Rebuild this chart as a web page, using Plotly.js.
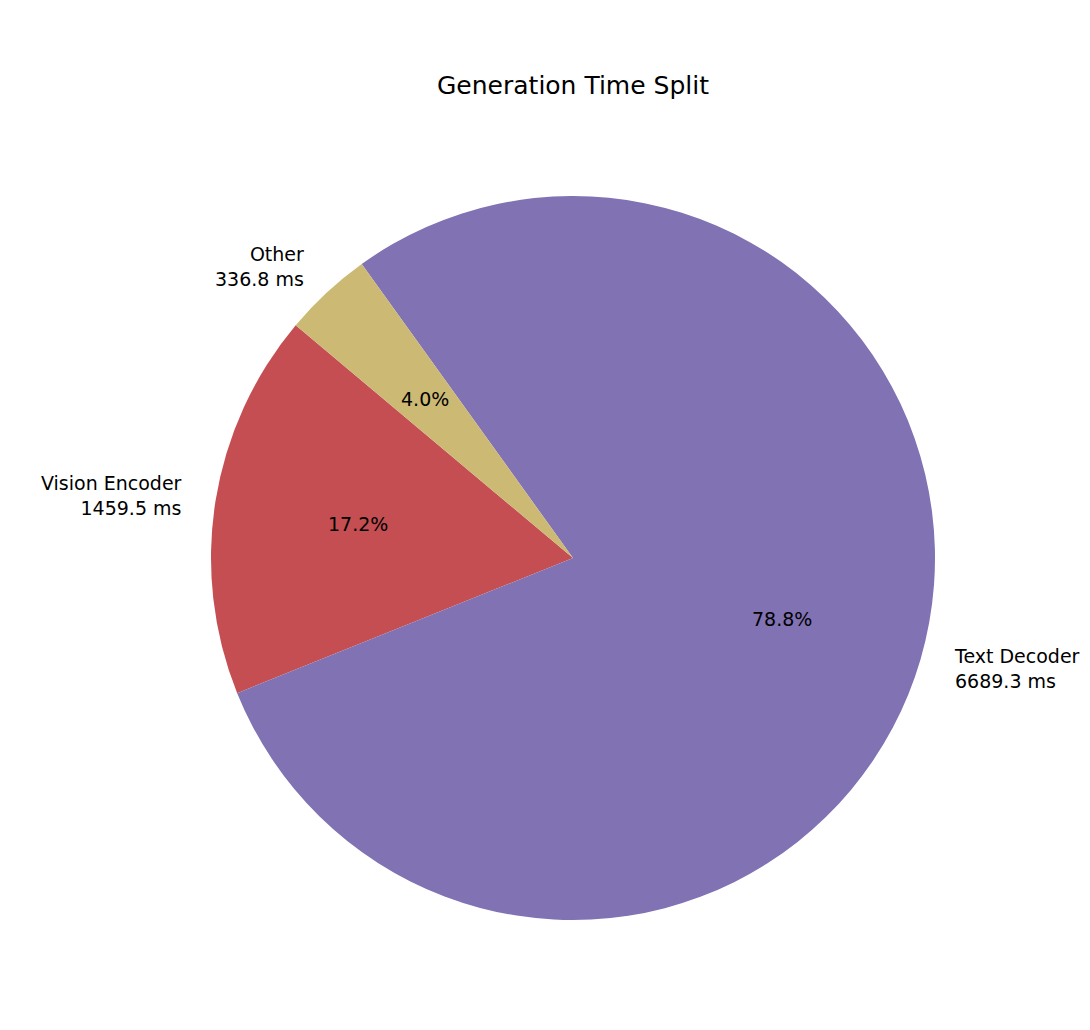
<!DOCTYPE html>
<html>
<head>
<meta charset="utf-8">
<script src="https://cdn.plot.ly/plotly-3.0.1.min.js"></script>
<style>
  body { margin: 0; background: #fff; }
  #chart { width: 1090px; height: 1030px; }
</style>
</head>
<body>
<div id="chart"></div>
<script>
// slice data (order as drawn, counterclockwise from start angle)
const labels = ["Vision Encoder", "Text Decoder", "Other"];
const times = [1459.5, 6689.3, 336.8];
const colors = ["#C44E52", "#8172B3", "#CCB974"];

const W = 1090, H = 1030;
const cx = 573, cy = 558, R = 362;   // pie centre and radius in pixels
const startAngle = 140;              // degrees, counterclockwise from 3 o'clock

const total = times.reduce((a, b) => a + b, 0);

// pixel -> paper
const px = x => x / W;
const py = y => 1 - y / H;

const annotations = [];
let ang = startAngle;
times.forEach((v, i) => {
    const frac = v / total;
    const mid = (ang + frac * 180) * Math.PI / 180;
    ang += frac * 360;
    const c = Math.cos(mid), s = Math.sin(mid);
    // outer label
    annotations.push({
        x: px(cx + 1.1 * R * c), y: py(cy - 1.1 * R * s),
        xref: 'paper', yref: 'paper',
        text: labels[i] + '<br>' + v.toFixed(1) + ' ms',
        showarrow: false,
        borderpad: 0,
        xshift: c > 0 ? -2 : 3,
        xanchor: c > 0 ? 'left' : 'right',
        yanchor: 'middle',
        align: c > 0 ? 'left' : 'right',
        font: { family: 'DejaVu Sans', size: 19, color: '#000' }
    });
    // percentage
    annotations.push({
        x: px(cx + 0.6 * R * c), y: py(cy - 0.6 * R * s),
        xref: 'paper', yref: 'paper',
        text: (frac * 100).toFixed(1) + '%',
        showarrow: false,
        borderpad: 0,
        xanchor: 'center', yanchor: 'middle',
        font: { family: 'DejaVu Sans', size: 19, color: '#000' }
    });
});

// plotly's counterclockwise pies put the first slice just clockwise of
// `rotation`, so shift by the first slice's sweep
const trace = {
    type: 'pie',
    labels: labels,
    values: times,
    marker: { colors: colors, line: { width: 0 } },
    sort: false,
    direction: 'counterclockwise',
    rotation: 90 - startAngle - times[0] / total * 360,
    textinfo: 'none',
    hoverinfo: 'none',
    showlegend: false,
    domain: {
        x: [px(cx - R), px(cx + R)],
        y: [py(cy + R), py(cy - R)]
    }
};

const layout = {
    width: W,
    height: H,
    margin: { l: 0, r: 0, t: 0, b: 0 },
    paper_bgcolor: '#fff',
    showlegend: false,
    title: {
        text: 'Generation Time Split',
        x: px(cx), xref: 'paper', xanchor: 'center',
        y: 1 - 85 / H, yref: 'container', yanchor: 'middle',
        font: { family: 'DejaVu Sans', size: 25, color: '#000' }
    },
    annotations: annotations
};

Plotly.newPlot('chart', [trace], layout, { displayModeBar: false });
</script>
</body>
</html>
